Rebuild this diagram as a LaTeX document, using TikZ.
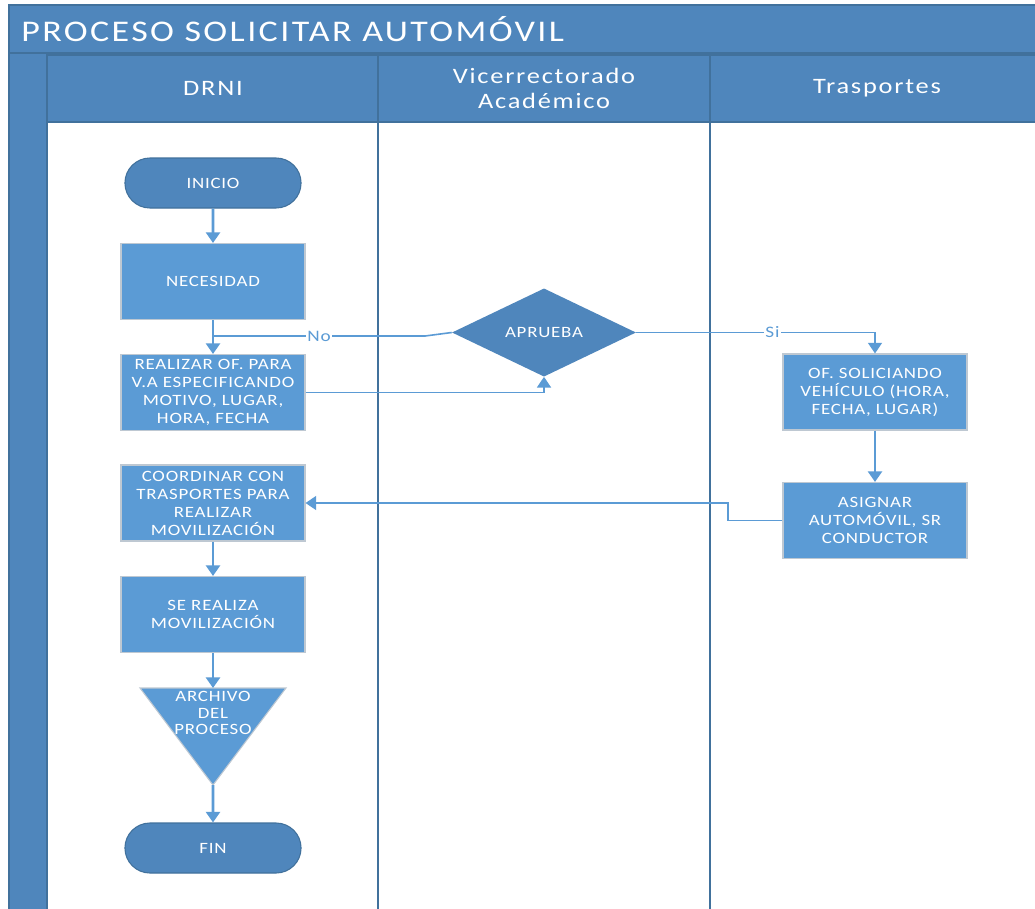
\documentclass[tikz,border=0pt]{standalone}
\usepackage{fontspec}
\setmainfont{Carlito}
\newfontfamily\boxfont[FakeStretch=1.2,LetterSpace=5]{Carlito}
\newfontfamily\headfont[FakeStretch=1.2,LetterSpace=8]{Carlito}
\newfontfamily\titlefont[FakeStretch=1.2,LetterSpace=8]{Carlito}
\newfontfamily\labelfont[FakeStretch=1.2,LetterSpace=6]{Carlito}
\usetikzlibrary{shapes.geometric,shapes.misc,arrows.meta}
\definecolor{pooldark}{RGB}{79,134,188}
\definecolor{poolline}{RGB}{65,113,156}
\definecolor{boxfill}{RGB}{91,155,213}
\definecolor{boxline}{RGB}{190,200,210}
\definecolor{flow}{RGB}{91,155,213}
\begin{document}
\begin{tikzpicture}[x=0.75pt,y=-0.75pt,
  lanehead/.style={fill=pooldark,draw=poolline,line width=1pt},
  lanesep/.style={draw=poolline,line width=1.5pt},
  stepbox/.style={rectangle,fill=boxfill,draw=boxline,line width=0.8pt,
    minimum width=138pt,minimum height=57pt,inner sep=1pt,align=center,
    text=white,font=\boxfont\fontsize{11.8}{13.5}\selectfont},
  terminal/.style={rounded rectangle,fill=pooldark,draw=poolline,line width=0.8pt,
    minimum width=138.75pt,minimum height=37.5pt,text=white,
    font=\boxfont\fontsize{11.8}{13.5}\selectfont},
  decision/.style={diamond,fill=pooldark,draw=none,inner sep=0pt,
    minimum width=138pt,minimum height=56.25pt,text=white,
    font=\boxfont\fontsize{11.8}{13.5}\selectfont},
  flowarrow/.style={draw=flow,line width=2pt,-{Triangle[width=10.5pt,length=8pt]}},
  thinflow/.style={draw=flow,line width=1.2pt},
  thinarrow/.style={draw=flow,line width=1.2pt,-{Triangle[width=10.5pt,length=8pt]}},
  flowlabel/.style={fill=white,text=flow,inner sep=1pt,font=\labelfont\fontsize{12}{13}\selectfont},
  headtext/.style={text=white,align=center,font=\headfont\fontsize{16.5}{18.75}\selectfont}]
\useasboundingbox (0,0) rectangle (1035,908);
\fill[white] (0,0) rectangle (1035,908);

% pool: title bar, left strip, lane headers
\path[lanehead] (9,5) rectangle (1040,53);
\node[anchor=west,inner sep=0pt,text=white,font=\titlefont\fontsize{22.5}{26}\selectfont] (title) at (21,29) {PROCESO SOLICITAR AUTOMÓVIL};
\path[lanehead] (9,53) rectangle (47,915);
\path[lanehead] (47,55) rectangle (378,122);
\path[lanehead] (378,55) rectangle (710,122);
\path[lanehead] (710,55) rectangle (1040,122);
\node[headtext] (drni) at (213,88) {DRNI};
\node[headtext] (vra) at (544,88) {Vicerrectorado\\Académico};
\node[headtext] (trans) at (877,88) {Trasportes};
\draw[lanesep] (47,122) -- (47,915);
\draw[lanesep] (378,122) -- (378,915);
\draw[lanesep] (710,122) -- (710,915);

% DRNI lane
\node[terminal] (inicio) at (213,183) {INICIO};
\node[stepbox] (necesidad) at (213,281.5) {NECESIDAD};
\node[stepbox] (realizar) at (213,392.5) {REALIZAR OF. PARA\\V.A ESPECIFICANDO\\MOTIVO, LUGAR,\\HORA, FECHA};
\node[stepbox] (coordinar) at (213,503) {COORDINAR CON\\TRASPORTES PARA\\REALIZAR\\MOVILIZACIÓN};
\node[stepbox] (serealiza) at (213,614.5) {SE REALIZA\\MOVILIZACIÓN};
\coordinate (archtop) at (213,688);
\coordinate (archtip) at (213,785);
\fill[boxfill,draw=boxline,line width=0.8pt] (140,688) -- (286,688) -- (archtip) -- cycle;
\node[text=white,align=center,inner sep=0pt,font=\boxfont\fontsize{11.8}{12.4}\selectfont] (archivo) at (213,713) {ARCHIVO\\DEL\\PROCESO};
\node[terminal] (fin) at (213,848) {FIN};

% Vicerrectorado lane
\node[decision] (aprueba) at (544,332.5) {APRUEBA};

% Trasportes lane
\node[stepbox] (oficio) at (875,392) {OF. SOLICIANDO\\VEHÍCULO (HORA,\\FECHA, LUGAR)};
\node[stepbox] (asignar) at (875,520.5) {ASIGNAR\\AUTOMÓVIL, SR\\CONDUCTOR};

% connectors
\draw[flowarrow] (inicio) -- (necesidad);
\draw[flowarrow] (necesidad) -- (realizar);
\coordinate (nobend) at (425,336);
\coordinate (nojoin) at (213,336);
\draw[thinflow] (aprueba.west) -- (nobend) -- (nojoin)
  node[flowlabel,pos=0.5] (nolabel) {No};
\coordinate (rbend) at (aprueba.south |- realizar.east);
\draw[thinarrow] (realizar.east) -- (rbend) -- (aprueba.south);
\coordinate (sibend) at (oficio.north |- aprueba.east);
\draw[thinarrow] (aprueba.east) -- node[flowlabel,pos=0.57] (silabel) {Si} (sibend) -- (oficio.north);
\draw[flowarrow] (oficio) -- (asignar);
\coordinate (abend1) at (728,520.5);
\coordinate (abend2) at (abend1 |- coordinar.east);
\draw[thinarrow] (asignar.west) -- (abend1) -- (abend2) -- (coordinar.east);
\draw[flowarrow] (coordinar) -- (serealiza);
\draw[flowarrow] (serealiza) -- (archtop);
\draw[flowarrow] (archtip) -- (fin);
\end{tikzpicture}
\end{document}
